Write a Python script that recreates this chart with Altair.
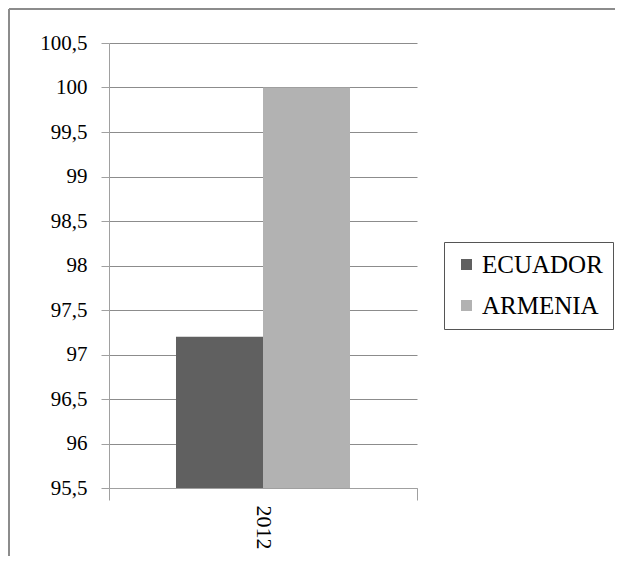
import altair as alt
import pandas as pd

years = ["2012", "2012"]
countries = ["ECUADOR", "ARMENIA"]
values = [97.2, 100.0]
colors = ["#606060", "#b2b2b2"]
y_ticks = [95.5, 96.0, 96.5, 97.0, 97.5, 98.0, 98.5, 99.0, 99.5, 100.0, 100.5]

df = pd.DataFrame({"year": years, "country": countries, "value": values})

FONT = "Liberation Serif"

bars = alt.Chart(df).mark_bar(clip=True).encode(
    x=alt.X("year:N", title=None,
            scale=alt.Scale(paddingInner=0, paddingOuter=0),
            axis=alt.Axis(labelAngle=90, labelAlign="left", labelBaseline="middle",
                          labelFont=FONT, labelFontSize=22, labelColor="#000000",
                          labelPadding=5, tickBand="extent", tickSize=12,
                          tickColor="#a0a0a0", domainColor="#a0a0a0", grid=False)),
    xOffset=alt.XOffset("country:N", sort=countries,
                        scale=alt.Scale(paddingInner=0, paddingOuter=0.77)),
    y=alt.Y("value:Q", title=None,
            scale=alt.Scale(domain=[95.5, 100.5], zero=False, nice=False),
            axis=alt.Axis(values=y_ticks,
                          labelExpr="replace(format(datum.value, '.1~f'), '.', ',')",
                          labelFont=FONT, labelFontSize=21, labelColor="#000000",
                          labelPadding=14, tickSize=8, tickColor="#a0a0a0",
                          domainColor="#a0a0a0", gridColor="#8c8c8c", grid=True)),
    color=alt.Color("country:N", sort=countries,
                    scale=alt.Scale(domain=countries, range=colors),
                    legend=alt.Legend(title=None, orient="none", legendX=335, legendY=199,
                                      symbolType="square", symbolSize=121,
                                      symbolStrokeWidth=0, labelFont=FONT,
                                      labelFontSize=25, labelColor="#000000",
                                      labelOffset=3, rowPadding=15, padding=10,
                                      strokeColor="#555555")),
)

frame_df = pd.DataFrame({"a": [0]})
frame_left = alt.Chart(frame_df).mark_rule(color="#8c8c8c", strokeWidth=2).encode(
    x=alt.value(-100), y=alt.value(-34), y2=alt.value(600))
frame_top = alt.Chart(frame_df).mark_rule(color="#8c8c8c", strokeWidth=2).encode(
    x=alt.value(-100), x2=alt.value(600), y=alt.value(-34))

chart = alt.layer(bars, frame_left, frame_top).properties(
    width=308, height=445,
    padding={"left": 101, "top": 35, "right": 198, "bottom": 68},
    autosize=alt.AutoSizeParams(type="none"),
).configure(font=FONT).configure_view(stroke=None)

chart.save("out.html", embed_options={"renderer": "svg", "actions": False})
